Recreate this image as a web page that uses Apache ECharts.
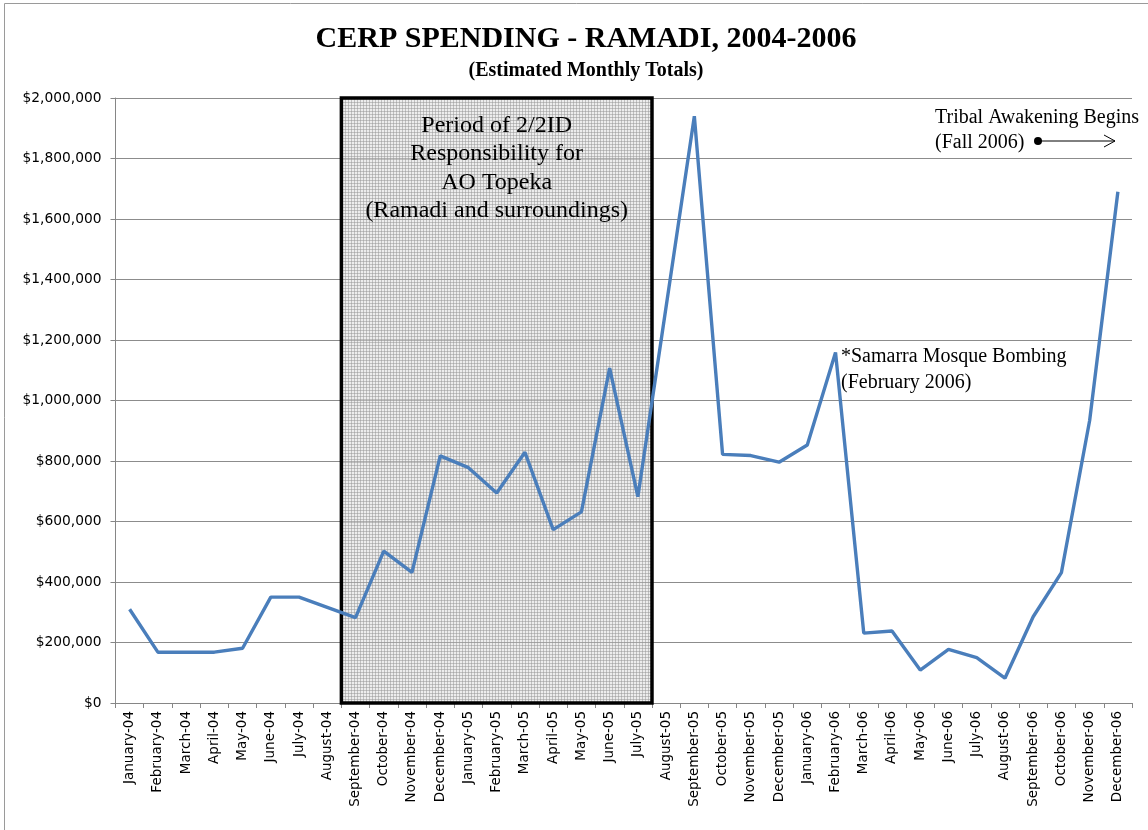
<!DOCTYPE html>
<html lang="en">
<head>
    <meta charset="UTF-8">
    <script src="https://cdn.jsdelivr.net/npm/echarts/dist/echarts.min.js"></script>
    <style>
        html, body { margin: 0; padding: 0; background: #fff; }
        #main { width: 1148px; height: 830px; }
    </style>
    <title>CERP Spending - Ramadi</title>
</head>
<body>
    <div id="main"></div>
<script type="text/javascript">
    // months, Jan 2004 .. Dec 2006
    var months = [
        'January-04', 'February-04', 'March-04', 'April-04', 'May-04', 'June-04',
        'July-04', 'August-04', 'September-04', 'October-04', 'November-04', 'December-04',
        'January-05', 'February-05', 'March-05', 'April-05', 'May-05', 'June-05',
        'July-05', 'August-05', 'September-05', 'October-05', 'November-05', 'December-05',
        'January-06', 'February-06', 'March-06', 'April-06', 'May-06', 'June-06',
        'July-06', 'August-06', 'September-06', 'October-06', 'November-06', 'December-06'
    ];
    // estimated monthly CERP totals ($)
    var spending = [
        310000, 168000, 168000, 168000, 181000, 350000,
        350000, 316000, 282000, 502000, 432000, 817000,
        778000, 694000, 829000, 573000, 632000, 1107000,
        682000, 1310000, 1940000, 822000, 818000, 796000,
        853000, 1159000, 231000, 238000, 109000, 177000,
        150000, 82000, 285000, 431000, 934000, 1690000
    ];
    // 2/2ID period: month index boundaries (Sep-04 .. Jul-05)
    var periodStart = 8;
    var periodEnd = 19;
    var yMax = 2000000;
    var yStep = 200000;

    // little grid pattern for the shaded box
    function makePattern() {
        var c = document.createElement('canvas');
        c.width = 3; c.height = 3;
        var ctx = c.getContext('2d');
        ctx.fillStyle = 'rgba(220,220,220,0.5)';
        ctx.fillRect(0, 0, 3, 3);
        ctx.fillStyle = 'rgba(150,150,150,0.5)';
        ctx.fillRect(0, 0, 3, 1);
        ctx.fillRect(0, 0, 1, 3);
        return c;
    }

    var serif = '"Liberation Serif", "Times New Roman", serif';
    var sans = '"DejaVu Sans", sans-serif';

    var chartDom = document.getElementById('main');
    var myChart = echarts.init(chartDom);
    var option;

    option = {
        animation: false,
        backgroundColor: '#fff',
        title: [
            {
                text: 'CERP SPENDING - RAMADI, 2004-2006',
                left: 581, top: 19, textAlign: 'center',
                textStyle: { fontFamily: serif, fontWeight: 'bold', fontSize: 30, color: '#000' }
            },
            {
                text: '(Estimated Monthly Totals)',
                left: 581, top: 56, textAlign: 'center',
                textStyle: { fontFamily: serif, fontWeight: 'bold', fontSize: 20, color: '#000' }
            }
        ],
        grid: { left: 115.5, right: 16, top: 98, bottom: 127 },
        xAxis: [
            {
                type: 'category',
                data: months,
                boundaryGap: true,
                axisLine: { lineStyle: { color: '#868686', width: 1 } },
                axisTick: { show: true, length: 5, interval: 0, lineStyle: { color: '#868686' } },
                axisLabel: {
                    interval: 0, rotate: 90, margin: 8,
                    fontFamily: sans, fontSize: 13.5, color: '#000'
                }
            },
            {
                type: 'value', min: 0, max: months.length, show: false
            }
        ],
        yAxis: {
            type: 'value',
            min: 0, max: yMax, interval: yStep,
            axisLine: { show: true, lineStyle: { color: '#868686' } },
            axisTick: { show: true, length: 5, lineStyle: { color: '#868686' } },
            splitLine: { lineStyle: { color: '#8c8c8c', width: 1 } },
            axisLabel: {
                margin: 14, fontFamily: sans, fontSize: 13.8, color: '#000',
                formatter: function (v) { return '$' + v.toLocaleString('en-US'); }
            }
        },
        series: [
            {
                name: 'period',
                type: 'line',
                xAxisIndex: 1,
                data: [],
                z: 1,
                markArea: {
                    silent: true,
                    itemStyle: {
                        color: { image: makePattern(), repeat: 'repeat' },
                        borderColor: '#000',
                        borderWidth: 3.5
                    },
                    label: {
                        show: true,
                        position: 'insideTop',
                        distance: 15,
                        fontFamily: serif, fontSize: 24, lineHeight: 28.5, color: '#000',
                        formatter: 'Period of 2/2ID\nResponsibility for\nAO Topeka\n(Ramadi and surroundings)'
                    },
                    data: [[{ xAxis: periodStart, yAxis: 0 }, { xAxis: periodEnd, yAxis: yMax }]]
                }
            },
            {
                name: 'CERP',
                type: 'line',
                data: spending,
                z: 3,
                showSymbol: false,
                symbol: 'none',
                lineStyle: { color: '#4a7ebb', width: 3.4 },
                itemStyle: { color: '#4a7ebb' }
            }
        ],
        graphic: [
            {
                type: 'rect',
                shape: { x: 4.5, y: 3.5, width: 1160, height: 840 },
                style: { fill: 'none', stroke: '#9a9a9a', lineWidth: 1 },
                silent: true
            },
            {
                type: 'text', left: 841, top: 344,
                style: {
                    text: '*Samarra Mosque Bombing\n(February 2006)',
                    font: '20px ' + serif, lineHeight: 26, fill: '#000'
                }
            },
            {
                type: 'text', left: 935, top: 105,
                style: {
                    text: 'Tribal Awakening Begins\n(Fall 2006)',
                    font: '20px ' + serif, lineHeight: 25, fill: '#000'
                }
            },
            {
                type: 'circle',
                shape: { cx: 1038, cy: 141, r: 4 },
                style: { fill: '#000' }
            },
            {
                type: 'line',
                shape: { x1: 1038, y1: 141, x2: 1115, y2: 141 },
                style: { stroke: '#000', lineWidth: 1 }
            },
            {
                type: 'polyline',
                shape: { points: [[1104, 135], [1115, 141], [1104, 147]] },
                style: { stroke: '#000', lineWidth: 1, fill: 'none' }
            }
        ]
    };
    option && myChart.setOption(option);
</script>
</body>
</html>
